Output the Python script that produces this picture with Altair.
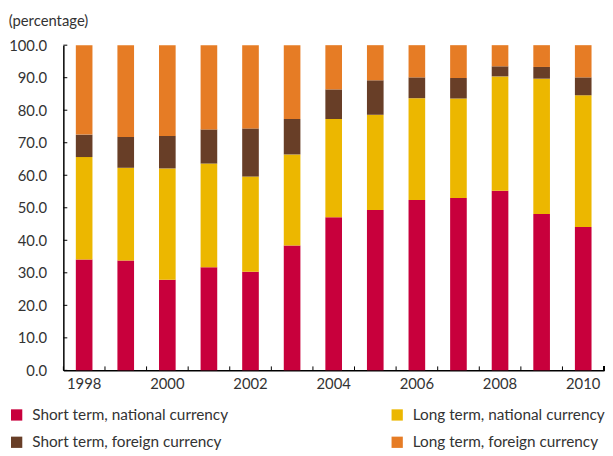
import altair as alt
import pandas as pd

years = list(range(1998, 2011))
series = ["Short term, national currency", "Long term, national currency",
          "Short term, foreign currency", "Long term, foreign currency"]
colors = ["#C8003C", "#ECB700", "#683E27", "#E67C25"]
# legend fills column-wise, so list the entries column by column
legend_order = [0, 2, 1, 3]

short_nat = [34.1, 33.8, 27.9, 31.7, 30.3, 38.4, 47.1, 49.3, 52.4, 53.0, 55.2, 48.1, 44.1]
long_nat = [31.5, 28.5, 34.2, 31.9, 29.3, 28.0, 30.2, 29.3, 31.3, 30.6, 35.2, 41.6, 40.5]
short_for = [6.9, 9.5, 10.0, 10.5, 14.8, 10.9, 9.1, 10.6, 6.4, 6.3, 3.1, 3.6, 5.5]
long_for = [27.5, 28.2, 27.9, 25.9, 25.6, 22.7, 13.6, 10.8, 9.9, 10.1, 6.5, 6.7, 9.9]

y_ticks = [0, 10, 20, 30, 40, 50, 60, 70, 80, 90, 100]

rows = []
for i, vals in enumerate([short_nat, long_nat, short_for, long_for]):
    for y, v in zip(years, vals):
        rows.append({"year": y, "series": series[i], "idx": i, "value": v})
df = pd.DataFrame(rows)

W, H = 547, 329
FONT = "Lato"

x_axis = alt.Axis(labelExpr="datum.value % 2 == 0 ? datum.label : ''",
                  labelAngle=0, ticks=False, tickSize=0, labelPadding=6,
                  domainColor="#000000", domainWidth=1.5,
                  labelFont=FONT, labelFontSize=15, labelColor="#333333")
x_scale = alt.Scale(paddingInner=0.6, paddingOuter=0.3)

y_axis = alt.Axis(values=y_ticks, format=".1f", ticks=False, tickSize=0,
                  labelPadding=17, grid=False, labelOverlap=False,
                  domainColor="#000000", domainWidth=1.5, labelFont=FONT,
                  labelFontSize=15, labelColor="#333333")
y_scale = alt.Scale(domain=[0, 100], nice=False)

bars = alt.Chart(df).mark_bar().encode(
    x=alt.X("year:O", title=None, scale=x_scale, axis=x_axis),
    y=alt.Y("value:Q", stack="zero", title=None, scale=y_scale, axis=y_axis),
    color=alt.Color("series:N", title=None,
                    scale=alt.Scale(domain=[series[i] for i in legend_order],
                                    range=[colors[i] for i in legend_order]),
                    legend=alt.Legend(orient="none", legendX=-55, legendY=366,
                                      columns=2, columnPadding=163, rowPadding=11,
                                      symbolType="square", symbolSize=130,
                                      symbolStrokeWidth=0, labelFont=FONT,
                                      labelFontSize=15.5, labelColor="#333333",
                                      labelLimit=400, labelOffset=8)),
    order=alt.Order("idx:Q"),
)

ydf = pd.DataFrame({"value": y_ticks})
ytick_layer = alt.Chart(ydf).mark_rule(color="#000000", strokeWidth=1).encode(
    y=alt.Y("value:Q", title=None, scale=y_scale, axis=y_axis),
    x=alt.value(0), x2=alt.value(4))

xdf = pd.DataFrame({"year": years})
xtick_layer = alt.Chart(xdf).mark_rule(color="#000000", strokeWidth=1, xOffset=-21).encode(
    x=alt.X("year:O", title=None, bandPosition=0.5, scale=x_scale, axis=x_axis),
    y=alt.value(H), y2=alt.value(H - 4))
xtick_end = alt.Chart(xdf).mark_rule(color="#000000", strokeWidth=1).encode(
    x=alt.value(W), y=alt.value(H), y2=alt.value(H - 4))

chart = alt.layer(bars, ytick_layer, xtick_layer, xtick_end).properties(
    width=W, height=H, padding={"left": 0, "top": 4, "right": 0, "bottom": 0},
    title=alt.TitleParams("(percentage)", anchor="start", frame="bounds",
                          font=FONT, fontSize=15, fontWeight="normal",
                          color="#333333", offset=9),
).configure_view(stroke=None)

chart.save("out.html", embed_options={"renderer": "svg", "actions": False})
